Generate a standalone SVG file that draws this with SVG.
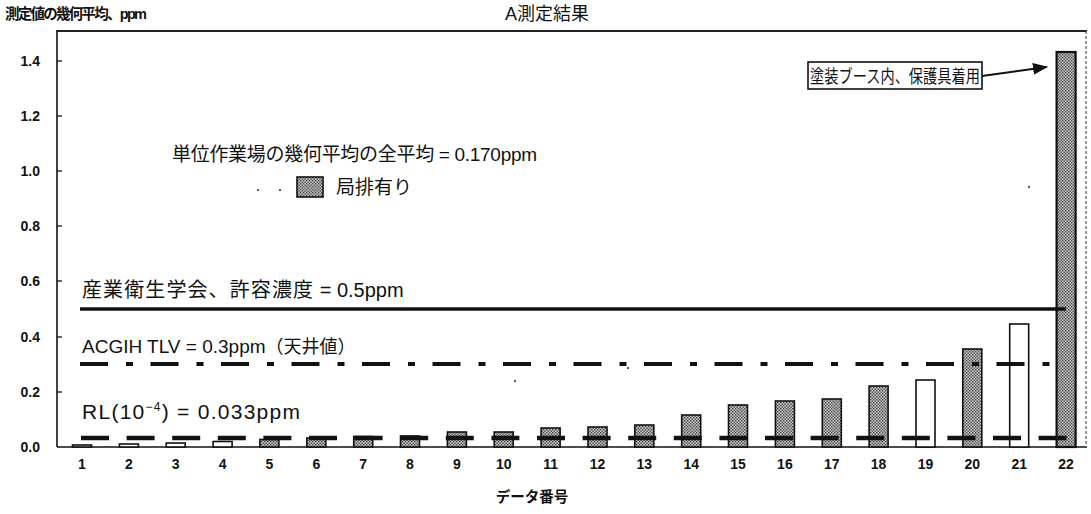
<svg xmlns="http://www.w3.org/2000/svg" width="1091" height="514" viewBox="0 0 1091 514">
<style>
text{font-family:"Liberation Sans","Noto Sans CJK JP",sans-serif;fill:#111}
.ax{font-size:14.5px;font-weight:bold}
.yl{font-size:14px;font-weight:bold;text-anchor:end}
.xl{font-size:14px;font-weight:bold;text-anchor:middle}
.lab{font-size:19px}
.bar{stroke:#111;stroke-width:1.6}
.sh{fill:url(#dots)}
.wh{fill:#fff}
.rl{stroke:#111;stroke-width:4.5}
.tick{stroke:#111;stroke-width:1.3}
.spk{fill:#222}
</style>
<defs>
<pattern id="dots" width="3" height="3" patternUnits="userSpaceOnUse">
<rect width="3" height="3" fill="#d4d4d4"/>
<rect x="0" y="0" width="1.4" height="1.4" fill="#333"/>
<rect x="1.5" y="1.5" width="1.4" height="1.4" fill="#333"/>
</pattern>
<marker id="ah" markerWidth="15" markerHeight="12" refX="14" refY="6" orient="auto" markerUnits="userSpaceOnUse">
<path d="M0,0 L15,6 L0,12 Z" fill="#111"/>
</marker>
</defs>
<rect width="1091" height="514" fill="#fff"/>

<g id="titles">
<text x="5" y="19" class="ax" textLength="142">測定値の幾何平均、ppm</text>
<text x="547" y="20" style="font-size:18px;text-anchor:middle">A測定結果</text>
<text x="532" y="502" class="xl" style="font-size:14.5px">データ番号</text>
</g>

<g id="frame">
<line x1="57" y1="31" x2="1087" y2="31" stroke="#222" stroke-width="1.8"/>
<line x1="57" y1="30" x2="57" y2="447" stroke="#111" stroke-width="1.6"/>
<line x1="57" y1="447" x2="1087" y2="447" stroke="#111" stroke-width="1.6"/>
<line x1="1086" y1="31" x2="1086" y2="447" stroke="#555" stroke-width="1.2" stroke-dasharray="3 2"/>
<line class="tick" x1="57" y1="61" x2="62" y2="61"/>
<line class="tick" x1="57" y1="116" x2="62" y2="116"/>
<line class="tick" x1="57" y1="171" x2="62" y2="171"/>
<line class="tick" x1="57" y1="226" x2="62" y2="226"/>
<line class="tick" x1="57" y1="281" x2="62" y2="281"/>
<line class="tick" x1="57" y1="337" x2="62" y2="337"/>
<line class="tick" x1="57" y1="392" x2="62" y2="392"/>
</g>

<g id="y-labels">
<text class="yl" x="40" y="66">1.4</text>
<text class="yl" x="40" y="121">1.2</text>
<text class="yl" x="40" y="176">1.0</text>
<text class="yl" x="40" y="231">0.8</text>
<text class="yl" x="40" y="286">0.6</text>
<text class="yl" x="40" y="342">0.4</text>
<text class="yl" x="40" y="397">0.2</text>
<text class="yl" x="40" y="452">0.0</text>
</g>

<g id="x-labels">
<text class="xl" x="82" y="469">1</text>
<text class="xl" x="128.9" y="469">2</text>
<text class="xl" x="175.7" y="469">3</text>
<text class="xl" x="222.6" y="469">4</text>
<text class="xl" x="269.4" y="469">5</text>
<text class="xl" x="316.3" y="469">6</text>
<text class="xl" x="363.2" y="469">7</text>
<text class="xl" x="410" y="469">8</text>
<text class="xl" x="456.9" y="469">9</text>
<text class="xl" x="503.7" y="469">10</text>
<text class="xl" x="550.6" y="469">11</text>
<text class="xl" x="597.5" y="469">12</text>
<text class="xl" x="644.3" y="469">13</text>
<text class="xl" x="691.2" y="469">14</text>
<text class="xl" x="738" y="469">15</text>
<text class="xl" x="784.9" y="469">16</text>
<text class="xl" x="831.8" y="469">17</text>
<text class="xl" x="878.6" y="469">18</text>
<text class="xl" x="925.5" y="469">19</text>
<text class="xl" x="972.3" y="469">20</text>
<text class="xl" x="1019.2" y="469">21</text>
<text class="xl" x="1066.1" y="469">22</text>
</g>

<g id="bars">
<rect id="bar1" class="bar wh" x="72.5" y="445" width="19" height="2"/>
<rect id="bar2" class="bar wh" x="119.4" y="444" width="19" height="3"/>
<rect id="bar3" class="bar wh" x="166.2" y="443" width="19" height="4"/>
<rect id="bar4" class="bar wh" x="213.1" y="441.5" width="19" height="5.5"/>
<rect id="bar5" class="bar sh" x="259.9" y="439.5" width="19" height="7.5"/>
<rect id="bar6" class="bar sh" x="306.8" y="438" width="19" height="9"/>
<rect id="bar7" class="bar sh" x="353.7" y="436.5" width="19" height="10.5"/>
<rect id="bar8" class="bar sh" x="400.5" y="436" width="19" height="11"/>
<rect id="bar9" class="bar sh" x="447.4" y="432" width="19" height="15"/>
<rect id="bar10" class="bar sh" x="494.2" y="432" width="19" height="15"/>
<rect id="bar11" class="bar sh" x="541.1" y="428" width="19" height="19"/>
<rect id="bar12" class="bar sh" x="588" y="427" width="19" height="20"/>
<rect id="bar13" class="bar sh" x="634.8" y="425" width="19" height="22"/>
<rect id="bar14" class="bar sh" x="681.7" y="415" width="19" height="32"/>
<rect id="bar15" class="bar sh" x="728.5" y="405" width="19" height="42"/>
<rect id="bar16" class="bar sh" x="775.4" y="401" width="19" height="46"/>
<rect id="bar17" class="bar sh" x="822.3" y="399" width="19" height="48"/>
<rect id="bar18" class="bar sh" x="869.1" y="386" width="19" height="61"/>
<rect id="bar19" class="bar wh" x="916" y="380" width="19" height="67"/>
<rect id="bar20" class="bar sh" x="962.8" y="349" width="19" height="98"/>
<rect id="bar21" class="bar wh" x="1009.7" y="324" width="19" height="123"/>
<rect id="bar22" class="bar sh" x="1056.6" y="52" width="19" height="395" style="stroke-width:2.2"/>
</g>

<g id="limit-lines">
<line id="line-05" x1="80" y1="309" x2="1066" y2="309" stroke="#111" stroke-width="3.4"/>
<line id="line-03" x1="80" y1="364" x2="1050" y2="364" stroke="#111" stroke-width="3.8" stroke-dasharray="28 18 7 17.5"/>
<g id="rl-dashes">
<line class="rl" x1="81" y1="438" x2="109" y2="438"/>
<line class="rl" x1="126.6" y1="438" x2="154.6" y2="438"/>
<line class="rl" x1="172.2" y1="438" x2="200.2" y2="438"/>
<line class="rl" x1="217.8" y1="438" x2="245.8" y2="438"/>
<line class="rl" x1="263.4" y1="438" x2="291.4" y2="438"/>
<line class="rl" x1="309" y1="438" x2="337" y2="438"/>
<line class="rl" x1="354.6" y1="438" x2="382.6" y2="438"/>
<line class="rl" x1="400.2" y1="438" x2="428.2" y2="438"/>
<line class="rl" x1="445.8" y1="438" x2="473.8" y2="438"/>
<line class="rl" x1="491.4" y1="438" x2="519.4" y2="438"/>
<line class="rl" x1="537" y1="438" x2="565" y2="438"/>
<line class="rl" x1="582.6" y1="438" x2="610.6" y2="438"/>
<line class="rl" x1="628.2" y1="438" x2="656.2" y2="438"/>
<line class="rl" x1="673.8" y1="438" x2="701.8" y2="438"/>
<line class="rl" x1="719.4" y1="438" x2="747.4" y2="438"/>
<line class="rl" x1="765" y1="438" x2="793" y2="438"/>
<line class="rl" x1="810.6" y1="438" x2="838.6" y2="438"/>
<line class="rl" x1="856.2" y1="438" x2="884.2" y2="438"/>
<line class="rl" x1="901.8" y1="438" x2="929.8" y2="438"/>
<line class="rl" x1="947.4" y1="438" x2="975.4" y2="438"/>
<line class="rl" x1="993" y1="438" x2="1021" y2="438"/>
<line class="rl" x1="1038.6" y1="438" x2="1066.6" y2="438"/>
</g>
</g>

<g id="label-mean">
<text class="lab" x="172" y="161" textLength="365">単位作業場の幾何平均の全平均 = 0.170ppm</text>
</g>

<g id="legend">
<rect x="297" y="177" width="26" height="20" class="bar sh"/>
<text class="lab" x="336" y="194">局排有り</text>
</g>

<g id="label-jsoh">
<text class="lab" x="82" y="297" style="font-size:20px"><tspan style="letter-spacing:1.1px">産業衛生学会、許容濃度</tspan> = 0.5ppm</text>
</g>

<g id="label-acgih">
<text class="lab" x="82" y="353">ACGIH TLV = 0.3ppm<tspan style="font-size:18px">（天井値）</tspan></text>
</g>

<g id="label-rl">
<text class="lab" x="82" y="419" style="font-size:21px" textLength="218">RL(10<tspan dy="-8" style="font-size:12px">−4</tspan><tspan dy="8">) = 0.033ppm</tspan></text>
</g>

<g id="note-box">
<rect x="808" y="62" width="174" height="27" fill="#fff" stroke="#111" stroke-width="1.6"/>
<text x="810" y="82.5" style="font-size:18px" textLength="170" lengthAdjust="spacingAndGlyphs">塗装ブース内、保護具着用</text>
</g>

<g id="connectors">
<line x1="982" y1="76" x2="1047" y2="67" stroke="#111" stroke-width="2" marker-end="url(#ah)"/>
</g>

<g id="specks">
<circle class="spk" cx="258" cy="190" r="1"/>
<circle class="spk" cx="280" cy="190" r="1"/>
<circle class="spk" cx="1029" cy="187" r="1"/>
<circle class="spk" cx="628" cy="368" r="1"/>
<circle class="spk" cx="515" cy="381" r="1"/>
</g>
</svg>
